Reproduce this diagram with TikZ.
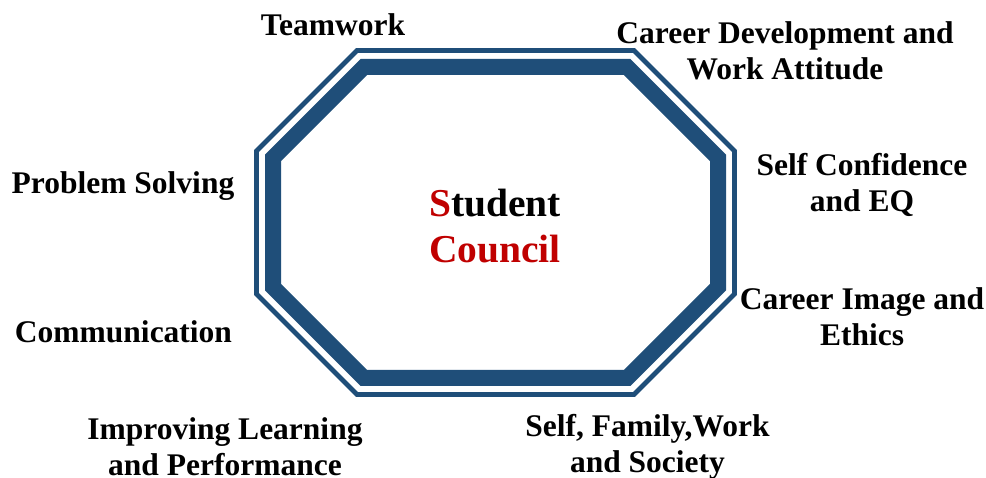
\documentclass[tikz,border=0pt]{standalone}
\usepackage{fontspec}
\setmainfont{Liberation Serif}
\definecolor{bandblue}{HTML}{1F4E79}
\definecolor{titlered}{HTML}{C00000}
% octagon centre (cx,cy), half sizes (hw,hh), corner cut (cc); all in px
\def\cx{495.5}\def\cy{222.5}\def\hw{241.5}\def\hh{174.5}\def\cc{102}
% draw the octagon outline inset by #1 with style #2
\newcommand{\octaband}[2]{%
  \draw[#2] ({\cx-\hw+#1},{\cy-\hh+\cc+#1*0.4142})
    -- ({\cx-\hw+\cc+#1*0.4142},{\cy-\hh+#1})
    -- ({\cx+\hw-\cc-#1*0.4142},{\cy-\hh+#1})
    -- ({\cx+\hw-#1},{\cy-\hh+\cc+#1*0.4142})
    -- ({\cx+\hw-#1},{\cy+\hh-\cc-#1*0.4142})
    -- ({\cx+\hw-\cc-#1*0.4142},{\cy+\hh-#1})
    -- ({\cx-\hw+\cc+#1*0.4142},{\cy+\hh-#1})
    -- ({\cx-\hw+#1},{\cy+\hh-\cc-#1*0.4142})
    -- cycle;}
\tikzset{
  thinband/.style={draw=bandblue, line width=4.8pt, line join=miter},
  thickband/.style={draw=bandblue, line width=16pt, line join=miter},
  label/.style={font=\fontsize{31.5}{36}\selectfont\bfseries, align=center, inner sep=0pt, text=black},
  title/.style={font=\fontsize{39.5}{46}\selectfont\bfseries, align=center, inner sep=0pt, text=titlered}
}
\begin{document}
\begin{tikzpicture}[x=1pt, y=-1pt]
  \useasboundingbox (0,0) rectangle (986,478);
  \fill[white] (0,0) rectangle (986,478);
  \octaband{2.5}{thinband}
  \octaband{19}{thickband}
  \node[title] (council) at (495,226) {S\textcolor{black}{tudent}\\Council};
  \node[label] (teamwork) at (333,25) {Teamwork};
  \node[label] (career) at (785,51) {Career Development and\\Work Attitude};
  \node[label] (confidence) at (862,185) {Self Confidence\\and EQ};
  \node[label] (image) at (862,317) {Career Image and\\Ethics};
  \node[label] (problem) at (123,186) {Problem Solving};
  \node[label] (communication) at (123.5,332) {Communication};
  \node[label] (learning) at (225,447) {Improving Learning\\and Performance};
  \node[label] (society) at (647.5,447) {Self, Family,Work\\and Society};
\end{tikzpicture}
\end{document}
